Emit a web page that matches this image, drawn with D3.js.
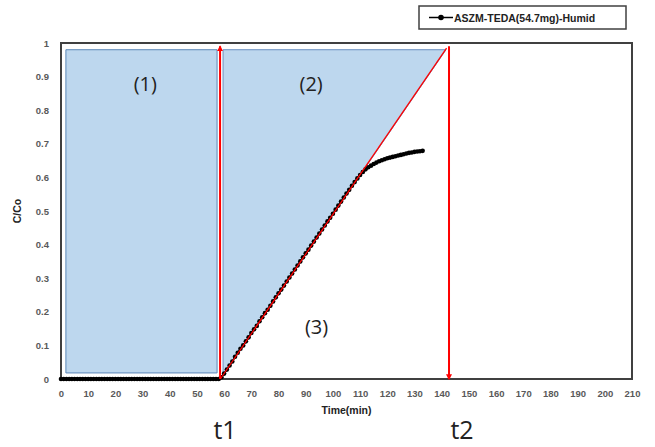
<!DOCTYPE html>
<html><head><meta charset="utf-8">
<script src="https://cdn.jsdelivr.net/npm/d3@7"></script>
<style>body{margin:0;background:#fff}svg{display:block}</style>
</head><body><svg id="c" width="655" height="447"></svg>
<script>
// ---- data ----
const seriesName = "ASZM-TEDA(54.7mg)-Humid";
const times = d3.range(0, 134); // minutes 0..133
const values = [
 0,0,0,0,0,0,0,0,0,0, 0,0,0,0,0,0,0,0,0,0,
 0,0,0,0,0,0,0,0,0,0, 0,0,0,0,0,0,0,0,0,0,
 0,0,0,0,0,0,0,0,0,0, 0,0,0,0,0,0,0,0,0,
 0.005,0.016,0.028,0.040,0.052,0.066,0.078,0.090,0.100,0.112,
 0.124,0.137,0.148,0.158,0.172,0.184,0.196,0.206,0.218,0.231,
 0.243,0.255,0.266,0.278,0.290,0.302,0.314,0.326,0.338,0.350,
 0.362,0.374,0.385,0.397,0.409,0.421,0.433,0.445,0.457,0.469,
 0.480,0.492,0.504,0.516,0.528,0.540,0.552,0.563,0.575,0.586,
 0.597,0.607,0.616,0.624,0.630,0.635,0.640,0.644,0.648,0.651,
 0.654,0.657,0.659,0.661,0.663,0.665,0.667,0.669,0.671,0.673,
 0.674,0.676,0.677,0.678,0.679
];
const xTicks = d3.range(0, 211, 10);
const yTicks = [0,0.1,0.2,0.3,0.4,0.5,0.6,0.7,0.8,0.9,1];
// annotation shapes in data units
const region1 = [[1.8,0.98],[57.4,0.98],[57.4,0.018],[1.8,0.018]];
const region2 = [[59.6,0.98],[141.6,0.98],[58.8,0],[59.6,0.015]];
const t1 = 58.5, t2 = 142.7;
const tangent = [[58.6,0],[141.8,0.985]];
const regionLabels = [{t:"(1)",x:31,y:0.88},{t:"(2)",x:92,y:0.88},{t:"(3)",x:94,y:0.155}];

// ---- layout ----
const svg = d3.select("#c");
const x = d3.scaleLinear().domain([0,210]).range([61,632]);
const y = d3.scaleLinear().domain([0,1]).range([379,43]);
const font = "'Liberation Sans', Arial, sans-serif";

const defs = svg.append("defs");
defs.append("marker").attr("id","ah").attr("viewBox","0 0 10 10").attr("refX",8).attr("refY",5)
  .attr("markerWidth",3).attr("markerHeight",3).attr("orient","auto-start-reverse")
  .append("path").attr("d","M0,0L10,5L0,10z").attr("fill","#ff0000");

// plot border
svg.append("rect").attr("x",x(0)).attr("y",y(1)).attr("width",x(210)-x(0)).attr("height",y(0)-y(1))
  .attr("fill","#fff").attr("stroke","#404040").attr("stroke-width",2);

const line = d3.line().x(d=>x(d[0])).y(d=>y(d[1]));

// shaded regions
svg.append("path").attr("d",line(region1)+"Z").attr("fill","#bdd7ee").attr("stroke","#5b87b8").attr("stroke-width",1);
svg.append("path").attr("d",line(region2)+"Z").attr("fill","#bdd7ee").attr("stroke","#6a8fc0").attr("stroke-width",1);

// data
const pts = times.map((t,i)=>[t,values[i]]);
svg.append("path").attr("d",line(pts)).attr("fill","none").attr("stroke","#000").attr("stroke-width",1.5);
svg.append("g").selectAll("circle").data(pts).join("circle")
  .attr("cx",d=>x(d[0])).attr("cy",d=>y(d[1])).attr("r",2.3).attr("fill","#000");

// tangent
svg.append("path").attr("d",line(tangent)).attr("stroke","#ff0000").attr("stroke-width",1.3).attr("fill","none");

// arrows
svg.append("line").attr("x1",x(t1)).attr("x2",x(t1)).attr("y1",y(0)).attr("y2",y(0.99))
  .attr("stroke","#ff0000").attr("stroke-width",2).attr("marker-end","url(#ah)");
svg.append("line").attr("x1",x(t2)).attr("x2",x(t2)).attr("y1",y(0.99)).attr("y2",y(0))
  .attr("stroke","#ff0000").attr("stroke-width",2).attr("marker-end","url(#ah)");

// axes
const xa = svg.append("g").attr("transform",`translate(0,${y(0)})`)
  .call(d3.axisBottom(x).tickValues(xTicks).tickSize(0).tickPadding(11).tickFormat(d3.format("d")));
const ya = svg.append("g").attr("transform",`translate(${x(0)},0)`)
  .call(d3.axisLeft(y).tickValues(yTicks).tickSize(0).tickPadding(12).tickFormat(d=>d===0?"0":d===1?"1":d3.format(".1f")(d)));
[xa,ya].forEach(a=>{a.select(".domain").remove();
  a.selectAll("text").attr("font-family",font).attr("font-size",9.5).attr("font-weight","bold").attr("fill","#595959");});

svg.append("text").attr("x",(x(0)+x(210))/2).attr("y",414).attr("text-anchor","middle")
  .attr("font-family",font).attr("font-size",10.5).attr("font-weight","bold").attr("fill","#222").text("Time(min)");
svg.append("text").attr("transform",`translate(21,${(y(0)+y(1))/2}) rotate(-90)`).attr("text-anchor","middle")
  .attr("font-family",font).attr("font-size",10.5).attr("font-weight","bold").attr("fill","#222").text("C/Co");

// region labels
svg.append("g").selectAll("text").data(regionLabels).join("text")
  .attr("x",d=>x(d.x)).attr("y",d=>y(d.y)).attr("text-anchor","middle").attr("dominant-baseline","central")
  .attr("font-family","'Open Sans', sans-serif").attr("font-size",20).attr("fill","#222").text(d=>d.t);

// t1 / t2
svg.append("text").attr("x",x(t1)+5).attr("y",439).attr("text-anchor","middle")
  .attr("font-family","'Open Sans', sans-serif").attr("font-size",25).attr("fill","#222").text("t1");
svg.append("text").attr("x",x(t2)+13).attr("y",439).attr("text-anchor","middle")
  .attr("font-family","'Open Sans', sans-serif").attr("font-size",25).attr("fill","#222").text("t2");

// legend
const lg = svg.append("g");
lg.append("rect").attr("x",419).attr("y",6).attr("width",207).attr("height",23)
  .attr("fill","#fff").attr("stroke","#404040").attr("stroke-width",1.5);
lg.append("line").attr("x1",429).attr("x2",453).attr("y1",17.5).attr("y2",17.5).attr("stroke","#000").attr("stroke-width",1.5);
lg.append("circle").attr("cx",441).attr("cy",17.5).attr("r",2.8).attr("fill","#000");
lg.append("text").attr("x",454).attr("y",21.5).attr("font-family",font).attr("font-size",10.5)
  .attr("font-weight","bold").attr("fill","#222").text(seriesName);
</script>
</body></html>
